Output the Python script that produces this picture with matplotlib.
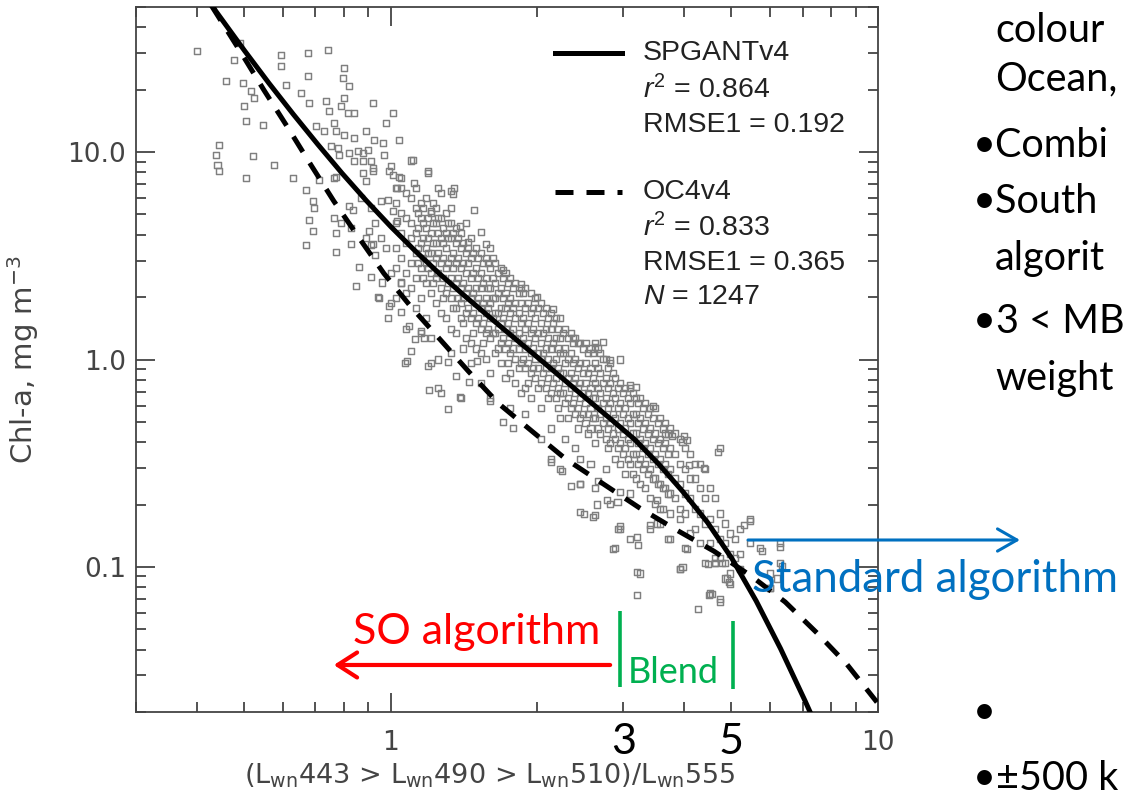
"""Band-ratio vs chlorophyll scatter with SPGANTv4 and OC4v4 curves (log-log)."""

import matplotlib

matplotlib.use("Agg")
import matplotlib.pyplot as plt
from matplotlib.ticker import NullFormatter

plt.rcParams["mathtext.fontset"] = "custom"
plt.rcParams["mathtext.rm"] = "Liberation Sans"
plt.rcParams["mathtext.it"] = "Liberation Sans:italic"

# Curves: (band ratio, chl-a in mg m^-3)
spgant_ratio = [0.43, 0.437, 0.501, 0.562, 0.631, 0.708, 0.794, 0.891, 1.0, 1.122,
                1.259, 1.413, 1.585, 1.778, 1.995, 2.239, 2.512, 2.818, 3.162, 3.548,
                3.981, 4.467, 5.012, 5.623, 6.31, 7.08, 7.41]
spgant_chl = [51.0, 47.9, 30.8, 21.5, 15.2, 10.9, 7.91, 5.83, 4.37, 3.34,
              2.59, 2.04, 1.62, 1.29, 1.03, 0.820, 0.652, 0.520, 0.413, 0.313,
              0.230, 0.164, 0.110, 0.0686, 0.0404, 0.0227, 0.0179]

oc4_ratio = [0.428, 0.493, 0.549, 0.615, 0.686, 0.764, 0.856, 0.968, 1.099, 1.266,
             1.445, 1.665, 1.954, 2.284, 2.705, 3.236, 3.855, 4.61, 5.49, 6.45,
             7.50, 8.63, 9.95]
oc4_chl = [51.0, 30.1, 19.9, 13.1, 8.65, 5.80, 3.93, 2.60, 1.80, 1.24,
           0.875, 0.613, 0.449, 0.332, 0.255, 0.193, 0.151, 0.119, 0.0905, 0.0678,
           0.048, 0.034, 0.0223]

# Scatter, dense band: one column of chl values per band ratio
band_a_ratio = [1.024, 1.048, 1.073, 1.099, 1.125, 1.152, 1.18, 1.208, 1.237, 1.266,
                1.296, 1.327, 1.359, 1.391, 1.424, 1.459, 1.493, 1.529, 1.565, 1.60,
                1.64, 1.68, 1.72, 1.76, 1.80, 1.85, 1.89, 1.94, 1.98, 2.03,
                2.08, 2.13, 2.18, 2.23, 2.28, 2.34, 2.39, 2.45, 2.51, 2.57,
                2.63, 2.69, 2.76, 2.82, 2.89, 2.96, 3.03, 3.10, 3.18, 3.25,
                3.33, 3.41, 3.49, 3.57, 3.66, 3.74, 3.84, 3.93, 4.02, 4.12,
                4.21, 4.31, 4.42, 4.52, 4.63, 4.74, 4.85, 4.97, 5.09, 5.21,
                5.46, 5.72, 6.0, 6.29]
band_a_chl = [
    [6.70, 5.67, 4.54, 3.44, 2.76, 1.98],
    [7.49, 5.08, 4.07, 3.08, 2.33],
    [6.34, 4.80, 3.64, 2.61, 2.09, 1.41],
    [6.0, 4.54, 3.85, 2.91, 2.21],
    [6.70, 5.37, 4.07, 3.26, 2.47, 1.77],
    [5.67, 4.80, 3.64, 2.76, 1.98, 1.34],
    [6.0, 4.30, 3.44, 2.91, 2.33, 1.58],
    [5.08, 4.07, 3.26, 2.61, 2.09, 1.27, 0.958],
    [5.37, 4.54, 3.64, 3.08, 2.47, 1.87],
    [6.34, 4.80, 3.85, 2.91, 2.21, 1.67, 0.686],
    [5.08, 4.07, 3.44, 2.76, 2.09, 1.58],
    [4.54, 3.85, 3.08, 2.47, 1.98, 1.41, 1.07],
    [4.30, 3.64, 2.91, 2.33, 1.77, 1.34],
    [4.07, 3.44, 2.76, 2.21, 1.87, 1.58, 0.649],
    [4.54, 3.26, 2.61, 2.09, 1.67, 1.27],
    [3.85, 3.08, 2.47, 1.98, 1.58, 1.20, 0.958],
    [3.44, 2.76, 2.21, 1.87, 1.50, 1.13],
    [3.26, 2.61, 2.21, 1.77, 1.41, 1.07, 0.767],
    [3.08, 2.47, 1.98, 1.67, 1.34, 1.01],
    [3.44, 2.76, 2.21, 1.87, 1.58, 1.27, 0.857, 0.649],
    [2.91, 2.33, 1.98, 1.67, 1.34, 1.07],
    [2.76, 2.21, 1.77, 1.50, 1.20, 0.958],
    [2.61, 2.09, 1.77, 1.41, 1.13, 0.811],
    [2.47, 1.98, 1.67, 1.34, 1.07, 0.857, 0.581],
    [2.33, 1.87, 1.58, 1.27, 1.01, 0.767],
    [2.21, 1.87, 1.50, 1.20, 0.958, 0.686],
    [2.21, 1.77, 1.41, 1.13, 0.906, 0.726, 0.549],
    [2.09, 1.67, 1.34, 1.07, 0.857, 0.649],
    [1.98, 1.58, 1.27, 1.01, 0.811],
    [1.87, 1.50, 1.20, 1.01, 0.767, 0.581, 0.416],
    [1.77, 1.41, 1.13, 0.906, 0.726],
    [1.67, 1.41, 1.13, 0.906, 0.686, 0.465, 0.333],
    [1.58, 1.27, 1.01, 0.811, 0.649],
    [1.58, 1.27, 1.07, 0.857, 0.686, 0.520, 0.298],
    [1.41, 1.13, 0.958, 0.767, 0.614, 0.416],
    [1.34, 1.07, 0.857, 0.726, 0.581],
    [1.27, 1.01, 0.811, 0.686, 0.549, 0.373],
    [1.20, 0.958, 0.767, 0.649, 0.520, 0.333, 0.252],
    [1.20, 0.958, 0.767, 0.614, 0.492],
    [1.13, 0.906, 0.726, 0.581, 0.465, 0.315],
    [1.20, 0.958, 0.767, 0.649, 0.520, 0.394, 0.239],
    [1.07, 0.857, 0.686, 0.549, 0.440],
    [1.01, 0.811, 0.649, 0.520, 0.416, 0.298],
    [0.958, 0.767, 0.614, 0.492, 0.394, 0.202],
    [0.811, 0.649, 0.520, 0.416, 0.333],
    [0.767, 0.614, 0.492, 0.394, 0.315, 0.153],
    [0.726, 0.581, 0.465, 0.373, 0.282],
    [0.726, 0.614, 0.492, 0.394, 0.315, 0.226, 0.137],
    [0.649, 0.549, 0.440, 0.352, 0.267],
    [0.649, 0.520, 0.416, 0.333, 0.252, 0.093],
    [0.614, 0.492, 0.394, 0.315, 0.239],
    [0.581, 0.465, 0.373, 0.298, 0.214, 0.153],
    [0.581, 0.440, 0.352, 0.267, 0.202],
    [0.520, 0.416, 0.333, 0.252, 0.191, 0.162],
    [0.492, 0.394, 0.315, 0.239],
    [0.465, 0.373, 0.298, 0.226, 0.181, 0.137],
    [0.440, 0.352, 0.267, 0.214],
    [0.416, 0.315, 0.252, 0.191, 0.171, 0.098],
    [0.373, 0.298, 0.226, 0.181, 0.123],
    [0.352, 0.267, 0.214, 0.145],
    [0.315, 0.267, 0.191, 0.153],
    [0.315, 0.239, 0.181, 0.130],
    [0.298, 0.214, 0.162, 0.104],
    [0.239, 0.171, 0.130, 0.0745],
    [0.214, 0.153, 0.110, 0.104],
    [0.373, 0.181, 0.137, 0.110, 0.070],
    [0.162, 0.130, 0.104, 0.088],
    [0.145, 0.116, 0.093, 0.083],
    [0.137, 0.110],
    [0.153, 0.116, 0.098],
    [0.171, 0.130],
    [0.123],
    [0.093, 0.079],
    [0.130, 0.104],
]

band_b_ratio = [1.138, 1.166, 1.194, 1.222, 1.251, 1.281, 1.311, 1.343, 1.375, 1.408,
                1.441, 1.476, 1.511, 1.547, 1.584, 1.622, 1.661, 1.70, 1.74, 1.78,
                1.83, 1.87, 1.915, 1.96, 2.006, 2.054, 2.10, 2.15, 2.20, 2.256,
                2.31, 2.365, 2.42, 2.48, 2.54, 2.60, 2.66, 2.73, 2.79, 2.86,
                2.93, 3.0, 3.07, 3.14, 3.22, 3.29, 3.37, 3.45, 3.53, 3.62, 3.70]
band_b_chl = [
    [5.08, 4.30, 3.44, 2.91],
    [5.37, 4.54, 3.85, 3.08, 2.47],
    [4.80, 3.85, 3.26, 2.76],
    [5.67, 4.54, 3.64, 2.91, 2.33],
    [4.80, 4.07, 3.26, 2.61],
    [4.30, 3.64, 3.08, 2.47, 1.98],
    [4.54, 3.85, 2.91, 2.33],
    [4.07, 3.26, 2.76, 2.21, 1.77],
    [3.85, 3.08, 2.47, 1.98],
    [3.64, 2.91, 2.33, 1.98, 1.50],
    [3.44, 2.91, 2.21, 1.77],
    [3.26, 2.61, 2.09, 1.67, 1.34],
    [3.08, 2.47, 1.98, 1.58],
    [2.91, 2.33, 1.87, 1.50, 1.20],
    [2.91, 2.21, 1.77, 1.41],
    [3.08, 2.47, 1.98, 1.58, 1.34],
    [2.61, 2.09, 1.67, 1.41, 1.13],
    [2.47, 1.98, 1.58, 1.27],
    [2.33, 1.87, 1.50, 1.20, 0.958],
    [2.21, 1.77, 1.41, 1.13],
    [2.09, 1.67, 1.34, 1.13, 0.906],
    [2.09, 1.58, 1.27, 1.01],
    [1.87, 1.50, 1.20, 0.958, 0.767],
    [1.77, 1.41, 1.13, 0.906],
    [1.77, 1.34, 1.07, 0.906, 0.726],
    [1.67, 1.34, 1.07, 0.857],
    [1.58, 1.27, 1.01, 0.811, 0.649],
    [1.50, 1.20, 0.958, 0.767],
    [1.41, 1.13, 0.906, 0.726, 0.581],
    [1.34, 1.07, 0.857, 0.686],
    [1.27, 1.01, 0.811, 0.649, 0.520],
    [1.20, 0.958, 0.767, 0.614],
    [1.20, 0.906, 0.726, 0.581, 0.465],
    [1.13, 0.857, 0.686, 0.549],
    [1.07, 0.857, 0.686, 0.549, 0.440],
    [1.07, 0.811, 0.649, 0.520],
    [1.13, 0.906, 0.726, 0.581, 0.465],
    [1.01, 0.767, 0.614, 0.492],
    [0.906, 0.726, 0.581, 0.465, 0.373],
    [0.857, 0.686, 0.549, 0.440],
    [0.726, 0.581, 0.465, 0.373],
    [0.686, 0.549, 0.440, 0.352],
    [0.649, 0.520, 0.416, 0.333],
    [0.686, 0.549, 0.440, 0.352, 0.282],
    [0.614, 0.492, 0.394, 0.315],
    [0.581, 0.465, 0.373, 0.298],
    [0.549, 0.440, 0.352, 0.282],
    [0.520, 0.416, 0.333, 0.267],
    [0.492, 0.394, 0.315, 0.252],
    [0.465, 0.373, 0.298, 0.239],
    [0.440, 0.352, 0.282, 0.226],
]

# Scatter, sparse points around the band
upper_points = [
    (0.40, 30.8), (0.477, 27.8), (0.49, 33.5), (0.459, 22.0), (0.497, 21.5),
    (0.517, 19.7), (0.524, 18.2), (0.500, 16.6), (0.505, 14.1), (0.547, 13.5),
    (0.444, 10.8), (0.438, 9.67), (0.441, 8.65), (0.444, 8.1), (0.521, 9.56),
    (0.505, 7.49), (0.576, 8.65), (0.630, 7.49), (0.595, 29.4), (0.676, 30.1),
    (0.743, 31.1), (0.595, 26.0), (0.676, 23.3), (0.801, 25.4), (0.797, 22.8),
    (0.820, 20.9), (0.609, 21.1), (0.654, 19.3), (0.679, 17.2), (0.736, 17.6),
    (0.801, 18.2), (0.790, 16.7), (0.816, 15.4), (0.84, 15.4), (0.748, 15.8),
    (0.918, 17.2), (1.01, 15.4), (0.977, 13.8), (0.764, 13.8), (0.702, 13.4),
    (0.729, 12.6), (0.771, 12.6), (0.801, 12.1), (0.840, 11.7), (0.889, 12.6),
    (0.923, 11.4), (0.963, 11.0), (1.04, 11.4), (0.897, 10.2), (0.856, 10.1),
    (0.820, 9.9), (0.779, 10.5), (0.754, 10.7), (0.783, 9.67), (0.876, 9.9),
    (0.968, 9.67), (0.840, 9.04), (0.876, 9.04), (0.910, 9.04), (0.876, 7.92),
    (0.918, 8.1), (1.0, 8.56), (1.01, 7.74), (1.04, 7.6), (1.05, 6.7),
    (0.889, 7.24), (0.771, 7.6), (0.712, 7.32), (0.669, 6.55), (0.692, 5.8),
    (0.695, 5.37), (0.836, 5.25), (0.679, 4.7), (0.692, 4.15), (0.771, 4.06),
    (0.669, 3.55), (0.828, 4.3), (0.901, 4.15), (0.954, 5.8), (0.986, 5.85),
    (1.01, 5.19), (1.03, 4.64), (0.82, 5.5), (0.764, 7.5), (0.764, 4.8),
    (0.92, 8.4), (0.99, 8.1), (1.03, 6.7), (0.868, 6.0), (0.91, 5.37),
    (0.93, 4.54), (0.889, 3.85), (0.828, 3.6), (0.79, 4.54), (0.771, 3.3),
    (0.954, 3.85), (0.977, 3.44), (0.92, 3.6), (1.11, 9.15), (1.19, 7.92),
    (1.115, 7.08), (1.25, 6.7), (1.35, 6.7), (1.34, 6.3), (1.48, 5.25),
    (1.33, 5.4), (1.21, 5.2), (1.1, 9.1), (1.19, 8.1), (1.33, 6.5),
    (1.44, 3.7), (1.39, 4.4), (1.53, 4.1), (1.57, 3.6),
]
lower_points = [
    (0.848, 2.25), (0.94, 2.0), (0.986, 1.58), (1.048, 1.70), (1.0, 1.87),
    (0.945, 1.97), (0.99, 1.82), (1.09, 1.45), (1.10, 1.10), (1.08, 0.98),
    (1.152, 1.37), (1.17, 1.27), (1.19, 0.93), (1.25, 1.0), (1.31, 0.97),
    (1.2, 0.71), (1.25, 0.73), (1.39, 0.66), (1.31, 0.58), (1.6, 0.63),
    (1.41, 1.13), (1.5, 0.98), (1.07, 0.96), (0.86, 2.8), (0.91, 2.5),
    (0.96, 2.35), (0.91, 3.55), (0.93, 3.2), (1.05, 2.35), (1.0, 2.6),
    (1.12, 1.25), (1.36, 0.83), (1.45, 0.78), (1.7, 0.5), (1.78, 0.47),
    (2.13, 0.32), (2.25, 0.29), (2.45, 0.25), (2.34, 0.245), (2.66, 0.26),
    (2.96, 0.23), (2.78, 0.21), (2.65, 0.2), (2.92, 0.205), (2.49, 0.18),
    (2.63, 0.178), (2.45, 0.184), (2.6, 0.175), (2.93, 0.152), (2.89, 0.123),
    (3.2, 0.14), (3.2, 0.095), (3.2, 0.073), (2.96, 0.157), (2.86, 0.122),
    (3.22, 0.128), (3.52, 0.162), (3.7, 0.137), (4.06, 0.122), (3.93, 0.098),
    (3.97, 0.1), (4.5, 0.073), (4.56, 0.074), (4.74, 0.068), (4.27, 0.063),
    (4.47, 0.103), (4.62, 0.105), (4.78, 0.105), (4.9, 0.088), (4.95, 0.085),
    (6.35, 0.101), (6.0, 0.079), (6.2, 0.088), (6.3, 0.125), (5.77, 0.12),
    (5.47, 0.167), (5.3, 0.16), (3.52, 0.21), (3.41, 0.16), (3.62, 0.19),
]
right_points = [
    (4.7, 0.36), (4.1, 0.31), (4.4, 0.30), (3.97, 0.40), (3.66, 0.44),
    (3.78, 0.43), (4.06, 0.41), (3.1, 0.75), (3.18, 0.74), (3.45, 0.6),
    (4.0, 0.43), (2.73, 1.22), (2.63, 1.15), (2.82, 0.99), (2.37, 1.27),
    (2.95, 1.0), (2.15, 1.75), (2.0, 2.0), (1.85, 2.3), (1.7, 2.7),
]

x_major = [1, 10]
x_major_labels = ["1", "10"]
x_minor = [0.3, 0.4, 0.5, 0.6, 0.7, 0.8, 0.9, 2, 3, 4, 5, 6, 7, 8, 9]
y_major = [0.1, 1, 10]
y_major_labels = ["0.1", "1.0", "10.0"]
y_minor = [0.02, 0.03, 0.04, 0.05, 0.06, 0.07, 0.08, 0.09,
           0.2, 0.3, 0.4, 0.5, 0.6, 0.7, 0.8, 0.9,
           2, 3, 4, 5, 6, 7, 8, 9, 20, 30, 40, 50]

legend_lines = [
    ("SPGANTv4", r"$r^2$ = 0.864", "RMSE1 = 0.192"),
    ("OC4v4", r"$r^2$ = 0.833", "RMSE1 = 0.365", r"$N$ = 1247"),
]

# slide text to the right of the chart (cut by the slide edge in the original)
slide_lines = ["colour", "Ocean,", "\u2022Combi", "\u2022South", "algorit",
               "\u2022" + "3 < MB", "weight", "\u2022", "\u2022\u00b1500 k"]
slide_baselines = [42, 90, 157, 213, 270, 333, 390, 724, 790]

W, H = 1125, 798


def main() -> None:
    pts_ratio, pts_chl = [], []
    for cols, chls in ((band_a_ratio, band_a_chl), (band_b_ratio, band_b_chl)):
        for r, cs in zip(cols, chls):
            pts_ratio += [r] * len(cs)
            pts_chl += cs
    for r, c in upper_points + lower_points + right_points:
        pts_ratio.append(r)
        pts_chl.append(c)

    fig = plt.figure(figsize=(W / 100, H / 100), dpi=100)
    ax = fig.add_axes([136 / W, 86 / H, 742 / W, 705 / H])

    ax.scatter(pts_ratio, pts_chl, marker="s", s=19, facecolors="none",
               edgecolors="#7f7f7f", linewidths=1.05, zorder=2)
    ax.plot(spgant_ratio, spgant_chl, color="black", lw=3.6, zorder=3)
    ax.plot(oc4_ratio, oc4_chl, color="black", lw=3.6,
            linestyle=(0, (3.6, 2.6)), zorder=3)

    ax.set_xscale("log")
    ax.set_yscale("log")
    ax.set_xlim(0.3, 10)
    ax.set_ylim(0.02, 50)
    ax.set_xticks(x_major, labels=x_major_labels)
    ax.set_xticks(x_minor, minor=True)
    ax.set_yticks(y_major, labels=y_major_labels)
    ax.set_yticks(y_minor, minor=True)
    ax.xaxis.set_minor_formatter(NullFormatter())
    ax.yaxis.set_minor_formatter(NullFormatter())

    ink = "#444444"
    ax.tick_params(which="both", direction="in", top=True, right=True,
                   color=ink, labelcolor=ink, width=1.3, labelsize=19)
    ax.tick_params(which="major", length=14)
    ax.tick_params(which="minor", length=7)
    ax.tick_params(axis="x", pad=13)
    ax.tick_params(axis="y", pad=7)
    for spine in ax.spines.values():
        spine.set_color(ink)
        spine.set_linewidth(1.3)

    ax.set_ylabel(r"Chl-a, mg m$^{\mathdefault{-3}}$", fontsize=21, color=ink)
    ax.yaxis.set_label_coords(-0.128, 0.5)
    ax.set_xlabel(r"(L$_{\mathdefault{wn}}$443 > L$_{\mathdefault{wn}}$490 > "
                  r"L$_{\mathdefault{wn}}$510)/L$_{\mathdefault{wn}}$555",
                  fontsize=19.5, color=ink)
    ax.xaxis.set_label_coords(0.477, -0.07)

    # legend block drawn by hand, as in the original figure
    row_y = [[0.935, 0.882, 0.833], [0.738, 0.687, 0.637, 0.589]]
    styles = ["-", (0, (3.6, 2.6))]
    for lines, ys, ls in zip(legend_lines, row_y, styles):
        ax.plot([0.565, 0.655], [ys[0], ys[0]], transform=ax.transAxes,
                color="black", lw=3.6, linestyle=ls, zorder=4)
        for text, y in zip(lines, ys):
            ax.text(0.683, y, text, transform=ax.transAxes, va="center",
                    fontsize=20.5, family="Liberation Sans", color="#222222")

    # slide annotations
    slide = dict(family="Lato")
    ax.annotate("", xy=(0.764, 0.0337), xytext=(2.82, 0.0337),
                arrowprops=dict(arrowstyle="->,head_length=0.7,head_width=0.45",
                                color="red", lw=3, shrinkA=0, shrinkB=0,
                                mutation_scale=20), zorder=5)
    ax.text(2.69, 0.0425, "SO algorithm", ha="right", va="baseline",
            color="red", fontsize=31, **slide)
    ax.plot([2.96, 2.96], [0.0263, 0.0613], color="#00B050", lw=2.6,
            solid_capstyle="butt", zorder=5)
    ax.plot([5.04, 5.04], [0.0258, 0.0548], color="#00B050", lw=2.6,
            solid_capstyle="butt", zorder=5)
    ax.text(3.06, 0.0275, "Blend", ha="left", va="baseline",
            color="#00B050", fontsize=26, **slide)
    for val in (3, 5):
        ax.text(val, -0.043, str(val), transform=ax.get_xaxis_transform(),
                ha="center", va="center", fontsize=31, color="black", **slide)

    ax.annotate("", xy=(1020 / W, 1 - 540 / H), xytext=(748 / W, 1 - 540 / H),
                xycoords="figure fraction", textcoords="figure fraction",
                arrowprops=dict(arrowstyle="->,head_length=0.7,head_width=0.4",
                                color="#0070C0", lw=2.2, shrinkA=0, shrinkB=0,
                                mutation_scale=20), annotation_clip=False)
    fig.text(752 / W, 1 - 592 / H, "Standard algorithm", ha="left",
             va="baseline", color="#0070C0", fontsize=31.5, **slide)

    for text, base in zip(slide_lines, slide_baselines):
        left = 973 if text.startswith("\u2022") else 995
        fig.text(left / W, 1 - base / H, text, ha="left", va="baseline",
                 fontsize=28.5, color="black", **slide)

    fig.savefig("out.png", dpi=100)
    plt.close(fig)


if __name__ == "__main__":
    main()
